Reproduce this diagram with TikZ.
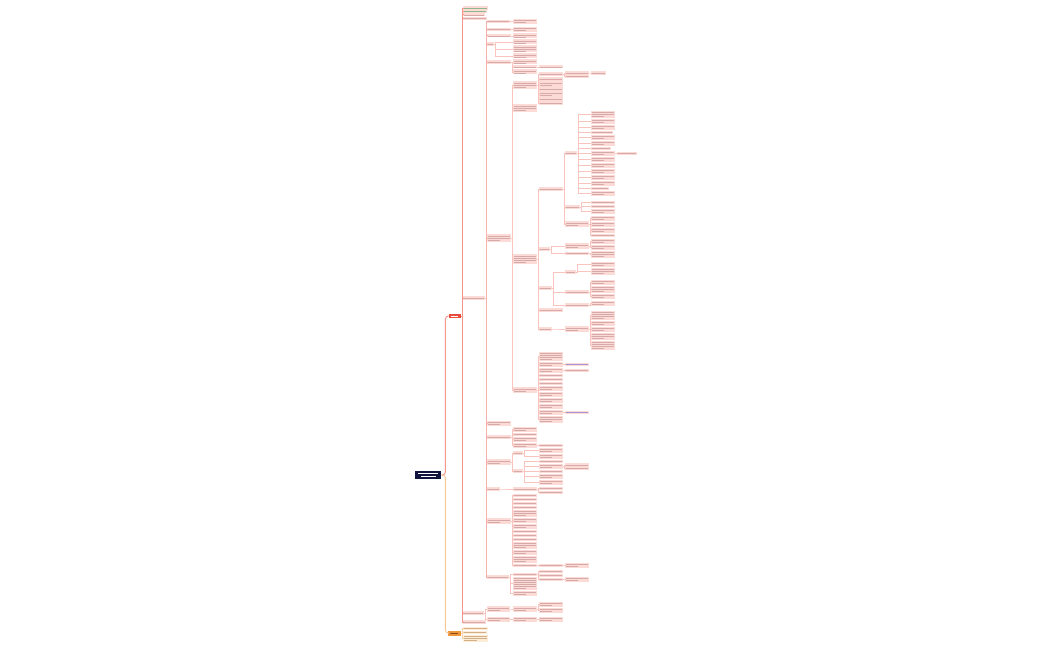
\documentclass[tikz,border=0pt]{standalone}
\usepackage{tikz}

\definecolor{navy}{RGB}{18,20,62}
\definecolor{brred}{RGB}{232,76,61}
\definecolor{brorg}{RGB}{238,150,58}
\definecolor{orgtext}{RGB}{140,70,20}
\definecolor{pinkfill}{RGB}{252,218,214}
\definecolor{pinkline}{RGB}{250,206,201}
\definecolor{pinktxt}{RGB}{214,170,168}
\definecolor{orgfill}{RGB}{252,236,216}
\definecolor{orgline}{RGB}{247,212,170}

% one topic box, its text drawn as grey rules (one per line)
\newcommand{\mm}[6][leaf]{%
  \pgfmathsetmacro{\bh}{2*#6+1.2}
  \node[#1,minimum width=#5,minimum height=\bh,anchor=west] (#2) at (#3,#4) {};
  \foreach \k in {1,...,#6}{
    \pgfmathsetmacro{\ty}{#4-\bh/2+0.6+(\k-0.5)*2}
    \pgfmathsetmacro{\tw}{(#6>1 && \k==#6) ? 0.5*#5 : #5-2.4}
    \draw[txt] (#3+1.2,\ty) -- ++(\tw,0);
  }%
}
% elbow connector parent -> child
\newcommand{\lk}[3][link]{\draw[#1] (#2.east) -- ++(1.2,0) |- (#3.west);}
% column of children under one parent: lines/width pairs
\newcommand{\stack}[5]{%
  \xdef\cury{#4}%
  \foreach \nn/\ww [count=\i] in {#5}{
    \pgfmathsetmacro{\sh}{2*\nn+1.2}
    \pgfmathsetmacro{\yc}{\cury+\sh/2}
    \mm{#2\i}{#3}{\yc}{\ww}{\nn}
    \lk{#1}{#2\i}
    \pgfmathsetmacro{\ny}{\cury+\sh+0.8}
    \xdef\cury{\ny}
  }%
}

\begin{document}
\begin{tikzpicture}[
  x=1pt,
  y=-1pt,
  leaf/.style={fill=pinkfill,draw=none,inner sep=0pt,rectangle},
  txt/.style={draw=pinktxt,line width=0.45pt},
  link/.style={draw={rgb,255:red,249;green,196;blue,190},line width=0.45pt},
  spine/.style={draw={rgb,255:red,246;green,178;blue,170},line width=0.7pt},
  mainspine/.style={draw={rgb,255:red,244;green,150;blue,140},line width=0.9pt}
]
\useasboundingbox (0,0) rectangle (1050,650);
\fill[white] (0,0) rectangle (1050,650);

% ---------------------------------------------------------------- root and the two branches
\node[leaf,fill=navy,minimum width=26,minimum height=8,anchor=west] (root) at (415,475) {};
\draw[white,line width=0.6pt] (418,473.3) -- ++(20,0);
\draw[white,line width=0.6pt] (420.5,476.7) -- ++(15,0);

\node[leaf,fill=brred,minimum width=12,minimum height=4.5,anchor=west] (main) at (449,316) {};
\draw[white,line width=0.6pt] (450.5,316) -- ++(7,0);
\node[leaf,fill=brorg,minimum width=13,minimum height=5,anchor=west] (extra) at (448,633) {};
\draw[draw=orgtext,line width=0.6pt] (449.5,633) -- ++(8,0);

\draw[mainspine,rounded corners=3pt] (root.east) -- ++(4,0) |- (main.west);
\draw[draw={rgb,255:red,246;green,200;blue,150},line width=0.9pt,rounded corners=3pt]
  (root.east) -- ++(4,0) |- (extra.west);

% ---------------------------------------------------------------- red branch, first level
\begin{scope}[txt/.style={draw={rgb,255:red,140;green,185;blue,140},line width=0.45pt}]
  \mm{a1}{463}{8}{25}{1}
  \mm{a2}{463}{11.4}{24}{1}
\end{scope}
\mm{a3}{463}{14.8}{22}{1}
\mm{a4}{463}{18.2}{24}{1}
\mm{a5}{463}{298}{22}{1}
\mm{a6}{463}{613}{21}{1}
\mm{a7}{463}{622}{23}{1}
\foreach \n in {a1,a2,a3,a4,a5,a6,a7}{\lk[mainspine]{main}{\n}}

% ---------------------------------------------------------------- second level
\mm{c1}{487}{21.5}{23}{1}
\mm{c2}{487}{29.5}{24}{1}
\mm{c3}{487}{35.8}{24}{1}
\mm{c4}{487}{44}{7}{1}
\mm{c5}{487}{62}{24}{1}
\mm{c6}{487}{238}{24}{3}
\mm{c7}{487}{423.5}{24}{2}
\mm{c8}{487}{437}{24}{1}
\mm{c9}{487}{462}{24}{2}
\mm{c10}{487}{489}{13}{1}
\mm{c11}{487}{521}{24}{2}
\mm{c12}{487}{577}{22}{1}
\foreach \i in {1,...,12}{\lk[spine]{a5}{c\i}}

% top group
\stack{c1}{ca}{513}{19}{2/24}
\stack{c2}{cb}{513}{27}{2/24}
\stack{c3}{cc}{513}{33.2}{2/24}
\stack{c4}{cd}{513}{39.2}{2/24,3/24,2/24}
\stack{c5}{ce}{513}{59.2}{2/24,1/24,2/24}
\mm{cf}{539}{66.8}{24}{1}
\lk{ce2}{cf}

% ---------------------------------------------------------------- large subtree
\mm{f1}{513}{85}{24}{3}
\mm{f2}{513}{108}{24}{3}
\mm{f3}{513}{259}{24}{4}
\mm{f4}{513}{390}{24}{2}
\foreach \n in {f1,f2,f3,f4}{\lk{c6}{\n}}

\mm{g1}{539}{74}{24}{1}
\lk{f1}{g1}
\stack{f1}{gb}{539}{77.5}{1/24,2/24,1/24,2/24,1/24,1/24}
\mm{h1}{565}{73}{24}{1}
\mm{h2}{565}{76.5}{24}{1}
\mm{h3}{591}{73}{15}{1}
\lk{g1}{h1} \lk{g1}{h2} \lk{h1}{h3}

\mm{k1}{539}{189}{24}{1}
\mm{k2}{539}{249}{11}{1}
\mm{k3}{539}{288}{13}{1}
\mm{k4}{539}{310}{24}{1}
\mm{k5}{539}{329}{13}{1}
\foreach \n in {k1,k2,k3,k4,k5}{\lk{f3}{\n}}

\mm{m1}{565}{153}{12}{1}
\mm{m2}{565}{207}{15}{1}
\mm{m3}{565}{224}{24}{2}
\foreach \n in {m1,m2,m3}{\lk{k1}{\n}}
\stack{m1}{ma}{591}{111}{3/24,2/24,2/24,1/22,2/24,2/24,1/20,2/24,2/24,2/24,2/24,2/24,2/24,1/18,2/24}
\mm{mx}{617}{153.6}{20}{1}
\lk{ma8}{mx}
\stack{m2}{mb}{591}{201}{1/24,1/24,2/24}
\stack{m3}{mc}{591}{216}{2/24,2/24,2/24,1/24}

\mm{n1}{565}{246}{24}{2}
\mm{n2}{565}{253.5}{24}{1}
\lk{k2}{n1} \lk{k2}{n2}
\stack{n1}{na}{591}{239}{2/24,2/24}
\stack{n2}{nb}{591}{251}{3/24}

\mm{p1}{565}{272}{11}{1}
\mm{p2}{565}{292}{24}{1}
\mm{p3}{565}{305}{24}{1}
\foreach \n in {p1,p2,p3}{\lk{k3}{\n}}
\stack{p1}{pa}{591}{262}{2/24,3/24}
\stack{p2}{pb}{591}{280}{2/24,3/24,2/24}
\stack{p3}{pc}{591}{300.5}{2/24}

\mm{q1}{565}{329}{24}{2}
\lk{k5}{q1}
\stack{q1}{qa}{591}{311}{4/24,2/24,2/24,3/24,4/24}

\stack{f4}{ra}{539}{351.5}{4/24,2/24,2/24,1/24,1/24,1/24,2/24,2/24,2/24,2/24,2/24,3/24}
\begin{scope}[txt/.style={draw={rgb,255:red,165;green,150;blue,215},line width=0.45pt}]
  \mm{rb1}{565}{364.1}{24}{1}
  \mm{rb3}{565}{412.1}{24}{1}
\end{scope}
\mm{rb2}{565}{370.1}{24}{1}
\lk{ra2}{rb1} \lk{ra3}{rb2} \lk{ra11}{rb3}

% ---------------------------------------------------------------- lower groups
\stack{c8}{sa}{513}{426.5}{2/24,1/24,2/24,2/24}
\mm{sx}{539}{445.1}{24}{1}
\lk{sa4}{sx}

\mm{s1}{513}{453}{10}{1}
\mm{s2}{513}{471}{10}{1}
\lk{c9}{s1} \lk{c9}{s2}
\stack{s1}{ta}{539}{448}{2/24,2/24}
\stack{s2}{tb}{539}{460}{1/24,2/24,1/24,2/24,2/24}
\mm{tc1}{565}{465}{24}{1}
\mm{tc2}{565}{468.6}{24}{1}
\lk{tb2}{tc1} \lk{tb2}{tc2}

\mm{u1}{513}{489}{24}{1}
\lk{c10}{u1}
\stack{u1}{ua}{539}{486.5}{1/24,1/24}

\stack{c11}{va}{513}{494}{1/24,1/24,1/24,1/24,3/24,2/24,2/24,1/24,1/24,1/24,3/24,2/24,3/24,1/24}
\mm{vb}{539}{565.6}{24}{1}
\mm{vc}{565}{565.6}{24}{2}
\lk{va14}{vb} \lk{vb}{vc}

\stack{c12}{wa}{513}{573}{1/24,6/24,2/24}
\stack{wa1}{wb}{539}{569.5}{1/24,1/24,1/24}
\mm{wc}{565}{579.1}{24}{2}
\lk{wb3}{wc}

\mm{d1}{487}{609}{23}{2}
\mm{d2}{487}{619.5}{23}{2}
\lk{a6}{d1} \lk{a6}{d2}
\mm{e1}{513}{609}{24}{2}
\lk{d1}{e1}
\stack{e1}{ea}{539}{602}{2/24,2/24}
\mm{e2}{513}{619.5}{24}{2}
\mm{e3}{539}{619.5}{24}{2}
\lk{d2}{e2} \lk{e2}{e3}

% ---------------------------------------------------------------- orange branch
\begin{scope}[leaf/.style={fill=orgfill,draw=none,inner sep=0pt,rectangle},
  txt/.style={draw={rgb,255:red,210;green,175;blue,135},line width=0.45pt},
  link/.style={draw=orgline,line width=0.6pt}]
  \stack{extra}{b}{463}{626.5}{1/25,1/24,3/25}
\end{scope}

\end{tikzpicture}
\end{document}
